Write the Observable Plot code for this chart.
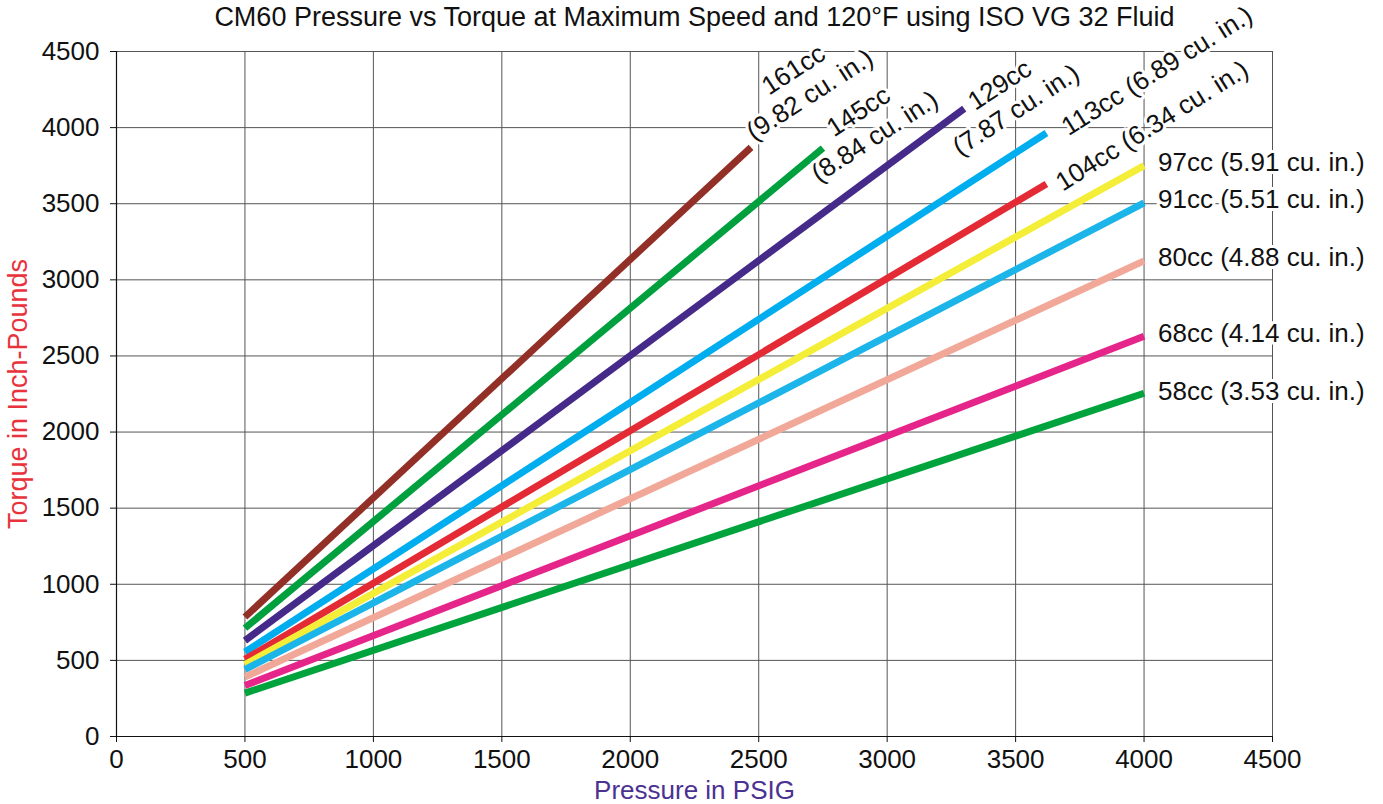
<!DOCTYPE html>
<html><head><meta charset="utf-8">
<script src="https://cdn.jsdelivr.net/npm/d3@7"></script>
<script src="https://cdn.jsdelivr.net/npm/@observablehq/plot@0.6"></script>
<style>body{margin:0;background:#fff;} svg{display:block}</style>
</head><body><div id="chart"></div>
<script>
// ---- data ----
const titleText = "CM60 Pressure vs Torque at Maximum Speed and 120°F using ISO VG 32 Fluid";
const series = ["161cc","145cc","129cc","113cc","104cc","97cc","91cc","80cc","68cc","58cc"];
const cuIn = ["9.82","8.84","7.87","6.89","6.34","5.91","5.51","4.88","4.14","3.53"];
const pressureStart = [500,500,500,500,500,500,500,500,500,500];
const pressureEnd   = [2470,2750,3300,3620,3620,4000,4000,4000,4000,4000];
const torqueStart   = [785,712,630,555,507,472,440,390,335,285];
const torqueEnd     = [3870,3865,4125,3965,3630,3750,3505,3125,2630,2255];
const xTicks = [0,500,1000,1500,2000,2500,3000,3500,4000,4500];
const yTicks = [0,500,1000,1500,2000,2500,3000,3500,4000,4500];
const twoLineLabels = ["161cc","145cc","129cc"];

// ---- styles ----
const colors = ["#922f27","#00a03e","#452a8a","#00aeef","#e32a35","#f4ee38","#1cb5ea","#f2a898","#e5258a","#00a33c"];
const labelPlacement = {
  "161cc": {rotate:-33, dx:50, dy:-66, anchor:"middle"},
  "145cc": {rotate:-33, dx:43, dy:-25, anchor:"middle"},
  "129cc": {rotate:-33, dx:43, dy:-12, anchor:"middle"},
  "113cc": {rotate:-32, dx:110, dy:-63, anchor:"middle"},
  "104cc": {rotate:-32, dx:105, dy:-59, anchor:"middle"},
  "97cc":  {rotate:0, dx:14, dy:-4, anchor:"start"},
  "91cc":  {rotate:0, dx:14, dy:-5, anchor:"start"},
  "80cc":  {rotate:0, dx:14, dy:-4, anchor:"start"},
  "68cc":  {rotate:0, dx:14, dy:-4, anchor:"start"},
  "58cc":  {rotate:0, dx:14, dy:-3, anchor:"start"}
};

// ---- build table ----
const rows = [];
series.forEach((s, i) => {
  rows.push({series: s, pressure: pressureStart[i], torque: torqueStart[i]});
  rows.push({series: s, pressure: pressureEnd[i], torque: torqueEnd[i]});
});
const ends = series.map((s, i) => ({
  series: s,
  pressure: pressureEnd[i],
  torque: torqueEnd[i],
  label: s + (twoLineLabels.includes(s) ? "\n" : " ") + "(" + cuIn[i] + " cu. in.)"
}));

const labelMarks = ends.map(d => {
  const p = labelPlacement[d.series];
  return Plot.text([d], {
    x: "pressure", y: "torque", text: "label",
    dx: p.dx, dy: p.dy, rotate: p.rotate,
    textAnchor: p.anchor, lineAnchor: "middle", lineHeight: 1.15,
    fontSize: 26, fill: "#111", stroke: "white", strokeWidth: 6
  });
});

const chart = Plot.plot({
  width: 1383, height: 804,
  marginLeft: 116, marginRight: 111, marginTop: 51, marginBottom: 68,
  style: {fontFamily: "'Liberation Sans', Arial, sans-serif", background: "white", color: "#111"},
  x: {domain: [0, 4500]},
  y: {domain: [0, 4500]},
  color: {domain: series, range: colors},
  marks: [
    Plot.gridX(xTicks, {stroke: "#555", strokeOpacity: 1, strokeWidth: 1}),
    Plot.gridY(yTicks, {stroke: "#555", strokeOpacity: 1, strokeWidth: 1}),
    Plot.ruleX([0], {stroke: "#111", strokeWidth: 1.2}),
    Plot.ruleY([0], {stroke: "#111", strokeWidth: 1.2}),
    Plot.axisX(xTicks, {tickSize: 6, tickPadding: 7, fontSize: 26, label: null, tickFormat: d => String(d), stroke: "#111"}),
    Plot.axisY(yTicks, {tickSize: 6, tickPadding: 11, fontSize: 26, label: null, tickFormat: d => String(d), stroke: "#111"}),
    Plot.line(rows, {x: "pressure", y: "torque", z: "series", stroke: "series", strokeWidth: 7, strokeLinecap: "butt"}),
    ...labelMarks,
    Plot.text([titleText], {text: d => d, frameAnchor: "top", textAnchor: "middle", lineAnchor: "top", dy: -45, fontSize: 27, fill: "#111"}),
    Plot.text(["Torque in Inch-Pounds"], {text: d => d, frameAnchor: "left", textAnchor: "middle", dx: -98, rotate: -90, fontSize: 27, fill: "#e8323c"}),
    Plot.text(["Pressure in PSIG"], {text: d => d, frameAnchor: "bottom", textAnchor: "middle", dy: 62, fontSize: 26, fill: "#4b3192"})
  ]
});
document.getElementById("chart").appendChild(chart);
</script>
</body></html>
